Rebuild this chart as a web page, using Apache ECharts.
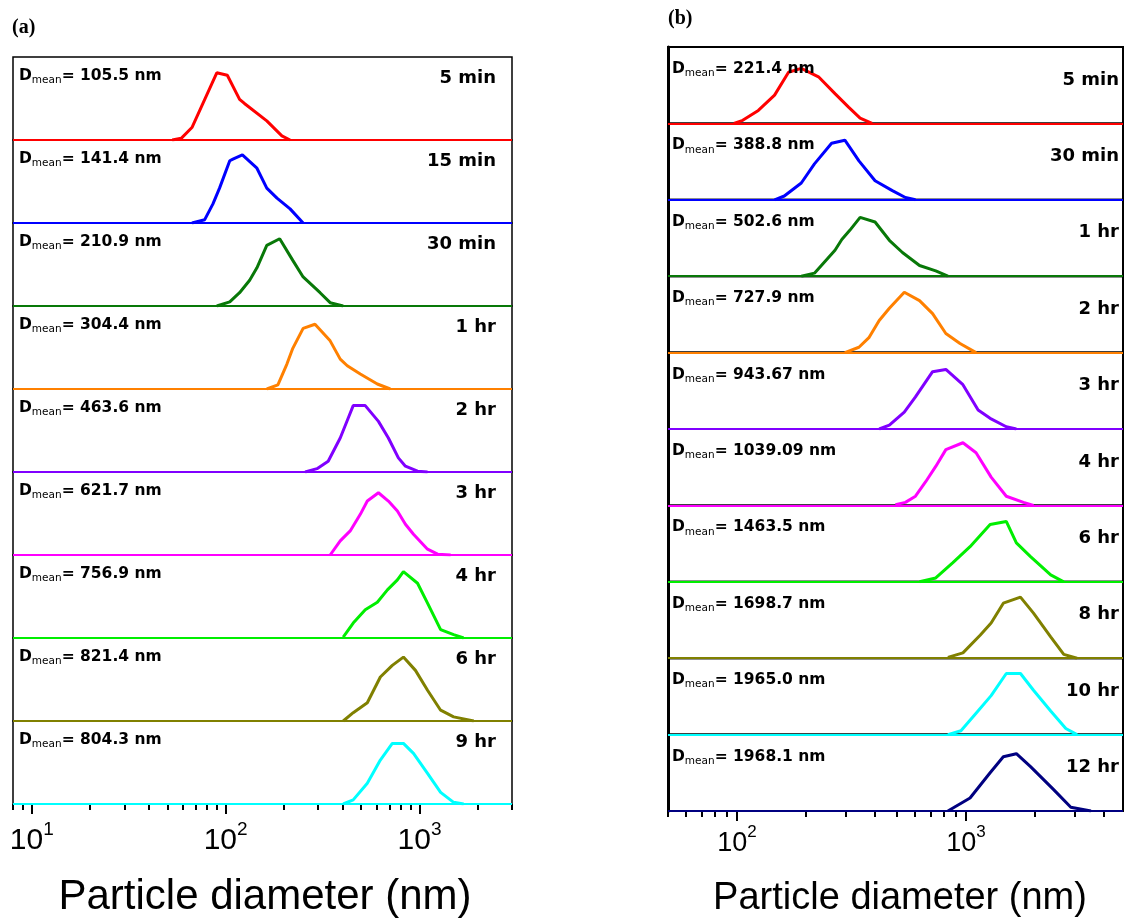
<!DOCTYPE html>
<html><head><meta charset="utf-8">
<script src="https://cdn.jsdelivr.net/npm/echarts@6/dist/echarts.min.js"></script>
<style>html,body{margin:0;padding:0;background:#fff}#c{width:1126px;height:918px}</style>
</head><body><div id="c"></div>
<script>
// ---------- Panel (a) data ----------
const aTimes = ['5 min','15 min','30 min','1 hr','2 hr','3 hr','4 hr','6 hr','9 hr'];
const aMeans = ['105.5','141.4','210.9','304.4','463.6','621.7','756.9','821.4','804.3'];
const aColors = ['#ff0000','#0000ff','#087808','#ff8000','#8000ff','#ff00ff','#00ee00','#808000','#00ffff'];
const a1 = [[53,0],[59,2],[67,15],[90,81],[102,78],[118,49],[125,44],[163,23],[195,5],[215,0]];
const a2 = [[67,0],[78,4],[86,23],[93,42],[105,75],[109,77],[122,82],[145,66],[163,42],[184,30],[215,17],[251,0]];
const a3 = [[90,0],[105,5],[118,16],[133,31],[145,46],[163,73],[190,81],[222,55],[251,35],[307,16],[346,4],[404,0]];
const a4 = [[163,0],[186,5],[207,30],[222,49],[251,73],[289,78],[346,58],[390,36],[424,28],[495,18],[606,6],[707,0]];
const a5 = [[257,0],[296,4],[338,13],[390,41],[429,65],[455,80],[525,80],[614,61],[691,41],[778,17],[846,7],[977,1],[1100,0]];
const a6 = [[346,0],[390,17],[439,29],[495,49],[538,65],[614,75],[691,65],[769,53],[846,37],[931,25],[1100,7],[1240,1],[1448,0]];
const a7 = [[404,1],[455,18],[525,34],[606,43],[683,58],[769,70],[826,80],[977,66],[1100,42],[1285,10],[1500,4],[1690,0]];
const a8 = [[404,0],[455,10],[538,22],[628,53],[724,67],[826,77],[953,61],[1100,37],[1285,13],[1500,5],[1905,0]];
const a9 = [[404,0],[455,5],[538,25],[628,53],[724,73],[826,73],[931,61],[1100,37],[1285,14],[1500,2],[1690,0]];
const aMajorTicks = [10,100,1000];
const aMinorTicks = [8,9,20,30,40,50,60,70,80,90,200,300,400,500,600,700,800,900,2000,3000];

// ---------- Panel (b) data ----------
const bTimes = ['5 min','30 min','1 hr','2 hr','3 hr','4 hr','6 hr','8 hr','10 hr','12 hr'];
const bMeans = ['221.4','388.8','502.6','727.9','943.67','1039.09','1463.5','1698.7','1965.0','1968.1'];
const bColors = ['#ff0000','#0000ff','#087808','#ff8000','#8000ff','#ff00ff','#00ee00','#808000','#00ffff','#000080'];
const b1 = [[97,0],[106,4],[124,17],[146,37],[168,67],[191,72],[227,61],[268,39],[308,21],[345,7],[389,0]];
const b2 = [[146,0],[161,5],[191,22],[218,47],[259,74],[296,78],[341,51],[401,25],[477,12],[544,3],[602,0]];
const b3 = [[191,0],[218,4],[268,34],[287,48],[311,60],[345,77],[401,71],[463,47],[528,31],[627,14],[738,7],[834,0]];
const b4 = [[296,0],[341,7],[378,20],[418,42],[463,58],[538,79],[627,68],[715,51],[817,25],[942,12],[1107,0]];
const b5 = [[418,0],[463,5],[538,22],[602,42],[715,75],[817,78],[970,58],[1130,25],[1275,14],[1500,3],[1660,0]];
const b6 = [[492,1],[544,4],[602,12],[667,31],[738,51],[817,73],[970,82],[1107,69],[1288,37],[1500,12],[1783,4],[1972,0]];
const b7 = [[627,0],[738,5],[877,25],[1042,46],[1275,75],[1500,79],[1660,51],[1914,33],[2344,9],[2673,0]];
const b8 = [[834,1],[970,7],[1153,30],[1288,46],[1456,72],[1730,80],[1972,59],[2344,28],[2673,5],[3055,0]];
const b9 = [[834,0],[951,5],[1107,28],[1288,51],[1500,80],[1730,80],[1972,58],[2344,31],[2729,8],[3055,0]];
const b10 = [[834,0],[1042,17],[1275,50],[1456,71],[1660,75],[1914,58],[2415,28],[2870,5],[3515,0]];
const bMajorTicks = [100,1000];
const bMinorTicks = [50,60,70,80,90,200,300,400,500,600,700,800,900,2000,3000,4000];

const xTitle = 'Particle diameter (nm)';

// ---------- Layout ----------
const panels = [
  {name:'(a)', nameX:12, nameY:28, left:13, width:499, top:57, h:83, min:8, max:3000,
   series:[a1,a2,a3,a4,a5,a6,a7,a8,a9], colors:aColors, times:aTimes, means:aMeans,
   major:aMajorTicks, minor:aMinorTicks, bw:1.5, thickY:false,
   labFs:30, labLh:42, supFs:19, lm:16, titleFs:42, titleX:265, titleY:897,
   dx:19, dy:19, rx:496, ry:21},
  {name:'(b)', nameX:668, nameY:19, left:668, width:455, top:47, h:76.4, min:50, max:4850,
   series:[b1,b2,b3,b4,b5,b6,b7,b8,b9,b10], colors:bColors, times:bTimes, means:bMeans,
   major:bMajorTicks, minor:bMinorTicks, bw:2, thickY:true,
   labFs:27, labLh:40, supFs:17, lm:13, titleFs:38, titleX:900, titleY:899,
   dx:672, dy:22, rx:1119, ry:33}
];

const grids=[], xAxes=[], yAxes=[], series=[], graphics=[];
panels.forEach(p => {
  graphics.push({type:'text', x:p.nameX, y:p.nameY, style:{text:p.name, font:'bold 20px "Liberation Serif"', fill:'#000', align:'left', verticalAlign:'middle'}});
  graphics.push({type:'text', x:p.titleX, y:p.titleY, style:{text:xTitle, font:p.titleFs+'px "Liberation Sans"', fill:'#000', align:'center', verticalAlign:'middle'}});
  const n = p.series.length;
  for (let i=0;i<n;i++){
    const gi = grids.length;
    const top = p.top + i*p.h;
    const last = i===n-1;
    grids.push({left:p.left, top:top, width:p.width, height:p.h, show:true, borderColor:'#000', borderWidth:p.bw, backgroundColor:'rgba(0,0,0,0)', containLabel:false, outerBoundsMode:'none'});
    const xi = xAxes.length;
    xAxes.push({gridIndex:gi, type:'log', logBase:10, min:p.min, max:p.max, position:'bottom',
      axisLine:{show:false}, splitLine:{show:false}, minorTick:{show:false}, minorSplitLine:{show:false},
      axisTick: last ? {show:true, inside:false, length:10, customValues:p.major, lineStyle:{color:'#000', width:2}} : {show:false},
      axisLabel: last ? {show:true, customValues:p.major, margin:p.lm,
        formatter: v => '{b|10}{s|' + Math.round(Math.log10(v)) + '}',
        rich:{b:{fontFamily:'Liberation Sans', fontSize:p.labFs, lineHeight:p.labLh, color:'#000'},
              s:{fontFamily:'Liberation Sans', fontSize:p.supFs, lineHeight:p.supFs, verticalAlign:'top', color:'#000'}}} : {show:false}
    });
    if (last) {
      xAxes.push({gridIndex:gi, type:'log', logBase:10, min:p.min, max:p.max, position:'bottom',
        axisLine:{show:false}, splitLine:{show:false}, axisLabel:{show:false},
        axisTick:{show:true, inside:false, length:6, customValues:p.minor, lineStyle:{color:'#000', width:2}}});
    }
    yAxes.push({gridIndex:gi, type:'value', min:0, max:100, axisLabel:{show:false}, axisTick:{show:false}, splitLine:{show:false},
      axisLine:{show:p.thickY, onZero:false, lineStyle:{color:'#000', width:3}}});
    const c = p.colors[i];
    series.push({type:'line', xAxisIndex:xi, yAxisIndex:gi, data:p.series[i], showSymbol:false, symbol:'none',
      lineStyle:{color:c, width:3}, itemStyle:{color:c}, clip:true, animation:false, z:3,
      markLine:{silent:true, symbol:['none','none'], animation:false, label:{show:false},
        lineStyle:{color:c, width:2, type:'solid'}, data:[{yAxis:0}]}});
    graphics.push({type:'text', x:p.dx, y:top+p.dy, z:10, style:{
      text:'{d|D}{s|mean}{d|= ' + p.means[i] + ' nm}', align:'left', verticalAlign:'middle',
      rich:{d:{fontFamily:'DejaVu Sans', fontWeight:'bold', fontSize:15.5, lineHeight:20, fill:'#000'},
            s:{fontFamily:'DejaVu Sans', fontWeight:'normal', fontSize:10.5, lineHeight:10, verticalAlign:'bottom', fill:'#000'}}}});
    graphics.push({type:'text', x:p.rx, y:top+p.ry, z:10, style:{text:p.times[i], font:'bold 18px "DejaVu Sans"', fill:'#000', align:'right', verticalAlign:'middle'}});
  }
});

const chart = echarts.init(document.getElementById('c'), null, {renderer:'canvas'});
chart.setOption({animation:false, backgroundColor:'#fff', grid:grids, xAxis:xAxes, yAxis:yAxes, series:series, graphic:graphics});
</script></body></html>
